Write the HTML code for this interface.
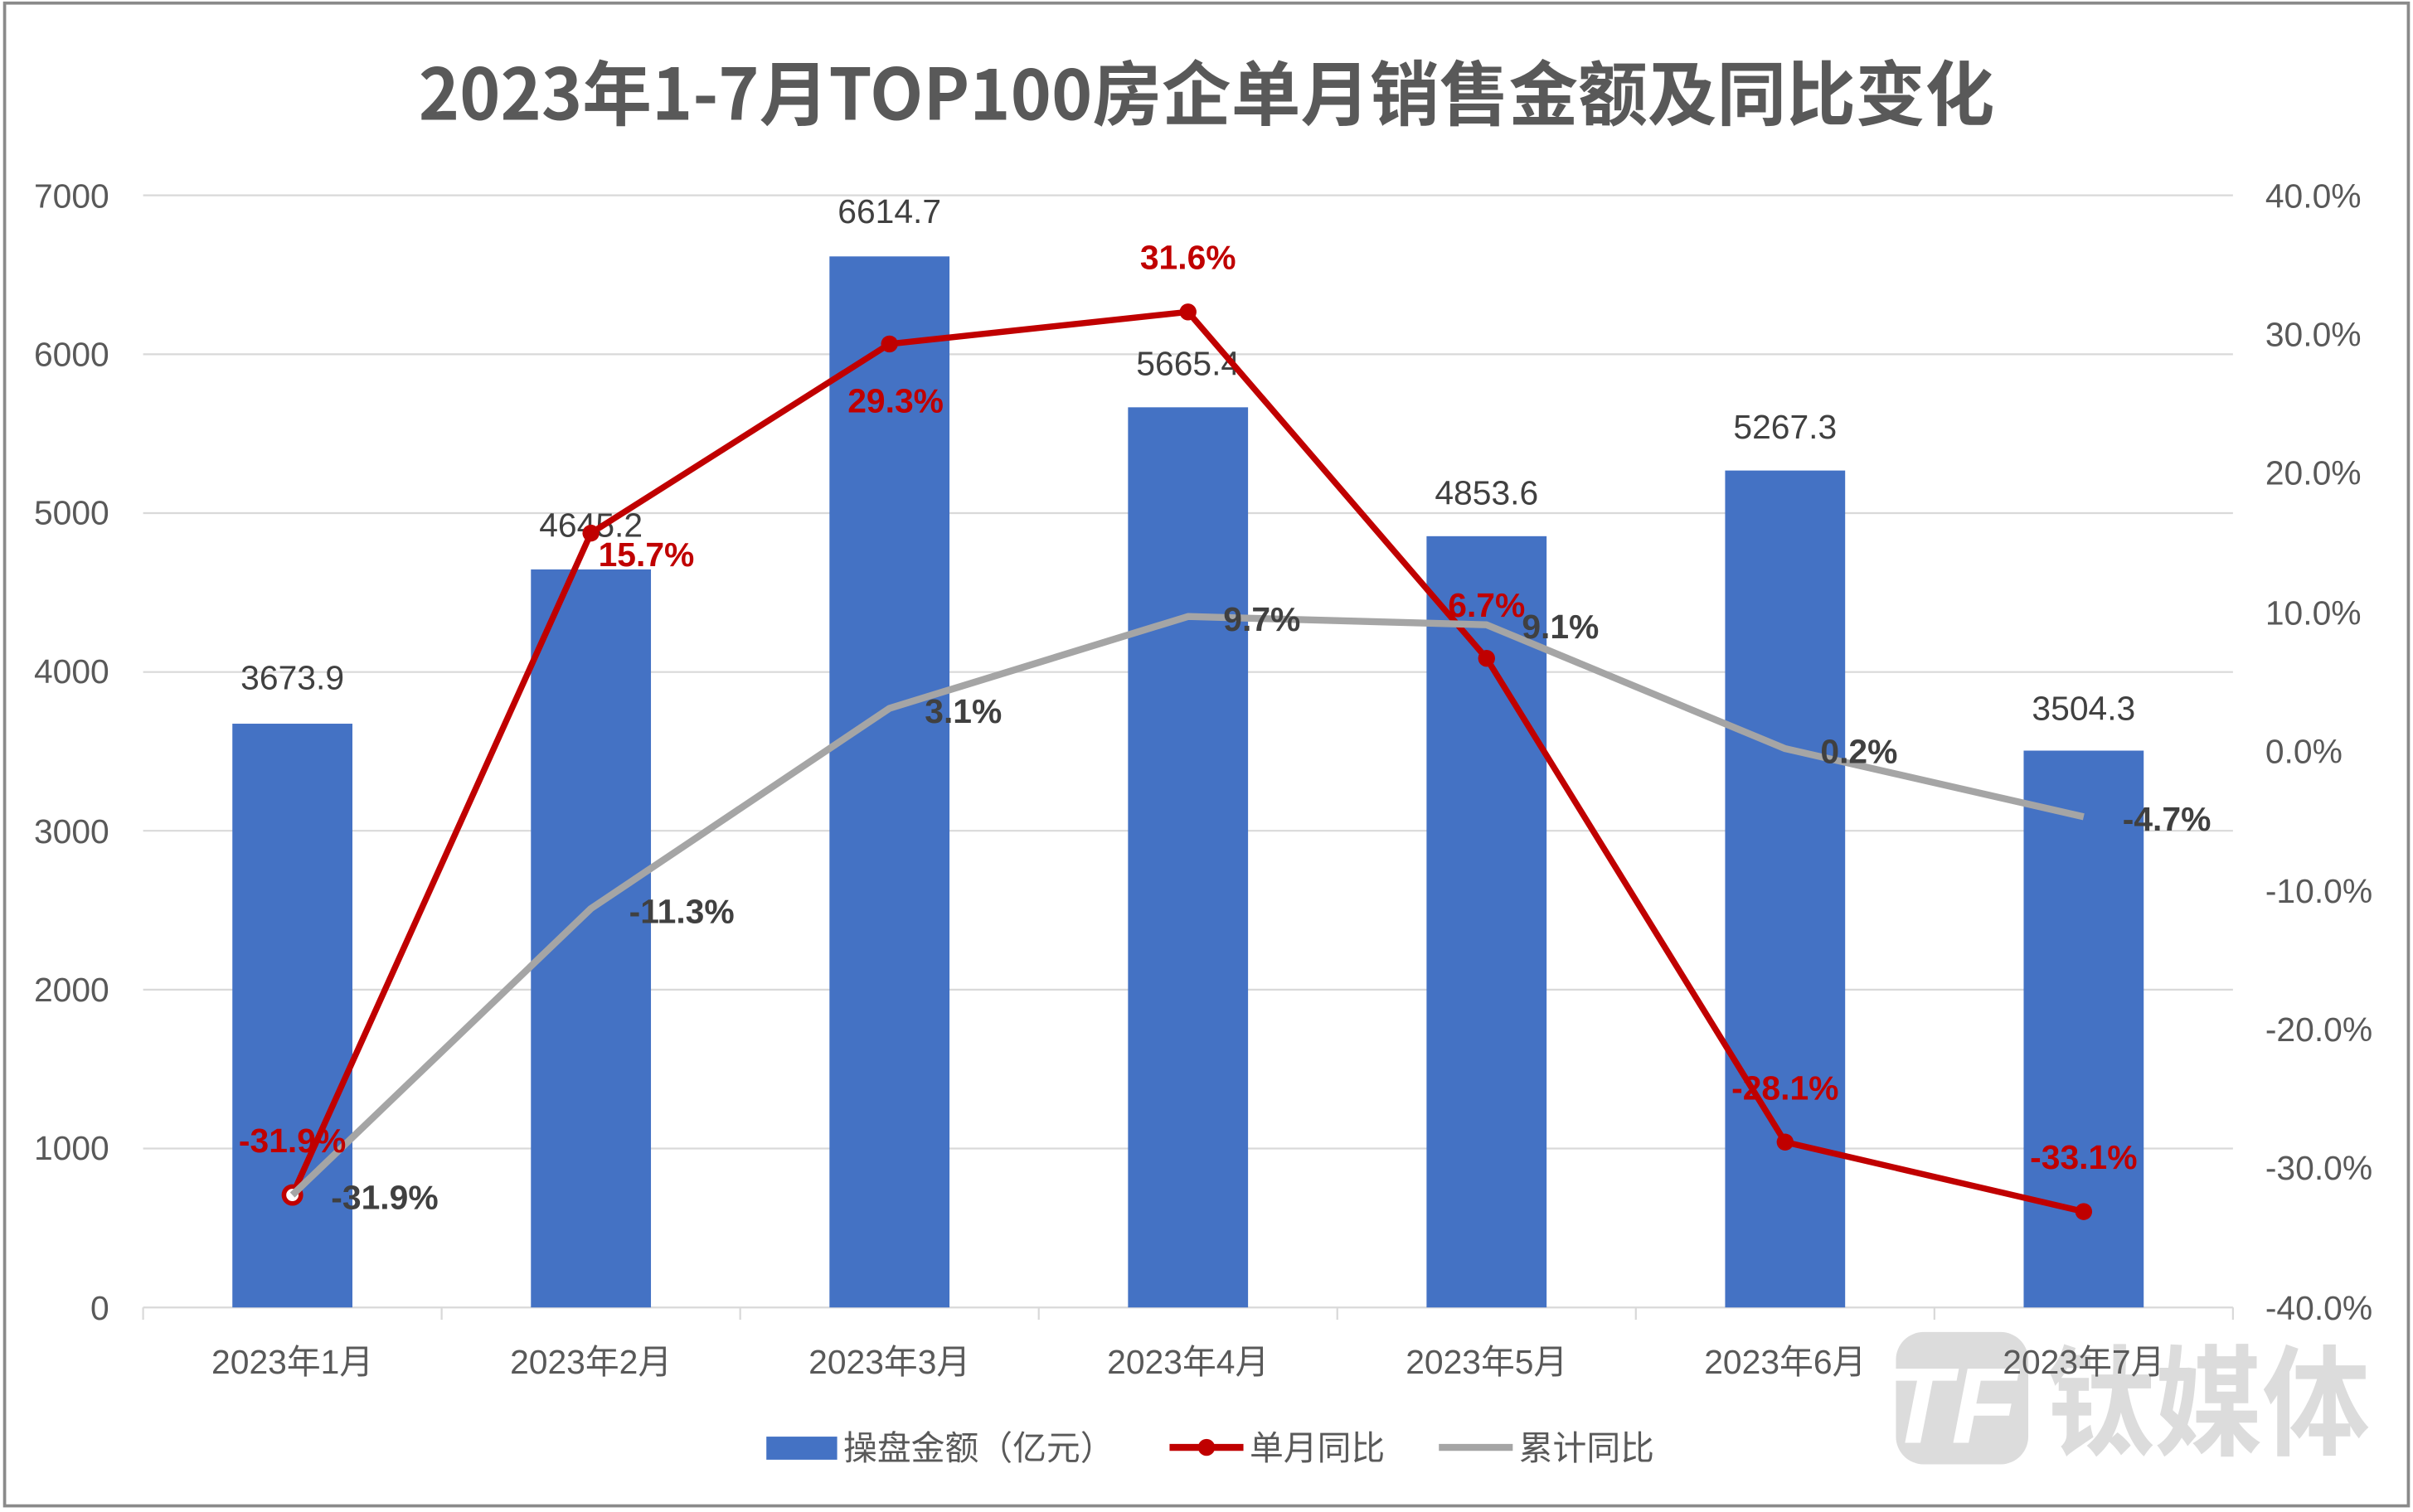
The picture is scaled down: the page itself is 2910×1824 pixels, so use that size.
<!DOCTYPE html>
<html><head><meta charset="utf-8"><style>
html,body{margin:0;padding:0;background:#fff;}
svg{display:block;}
text{font-family:"Liberation Sans","Noto Sans CJK SC",sans-serif;}
</style></head><body>
<svg width="2910" height="1824" viewBox="0 0 1568 983" preserveAspectRatio="none" xmlns="http://www.w3.org/2000/svg">
<rect x="0" y="0" width="1568" height="983" fill="#fff"/>
<rect x="3" y="2" width="1562" height="977" fill="none" stroke="#8a8a8a" stroke-width="2"/>
<text x="784" y="78" text-anchor="middle" font-size="46" font-weight="bold" fill="#595959" textLength="1024" lengthAdjust="spacingAndGlyphs" style='font-family:"Noto Sans CJK SC",sans-serif'>2023年1-7月TOP100房企单月销售金额及同比变化</text>
<!-- watermark -->
<g fill="#dcdcdc">
<rect x="1232" y="866" width="86" height="86" rx="18"/>
<text x="1330" y="940" font-size="78" font-weight="bold" fill="#dcdcdc" style='font-family:"Noto Sans CJK SC",sans-serif' textLength="210" lengthAdjust="spacingAndGlyphs">钛媒体</text>
</g>
<text x="1268" y="938" font-size="70" font-weight="bold" fill="#fff" text-anchor="middle" font-style="italic">TF</text>
<!-- gridlines -->
<g stroke="#d9d9d9" stroke-width="1.2">
<line x1="93" x2="1451" y1="127" y2="127"/>
<line x1="93" x2="1451" y1="230.3" y2="230.3"/>
<line x1="93" x2="1451" y1="333.6" y2="333.6"/>
<line x1="93" x2="1451" y1="436.9" y2="436.9"/>
<line x1="93" x2="1451" y1="540.1" y2="540.1"/>
<line x1="93" x2="1451" y1="643.4" y2="643.4"/>
<line x1="93" x2="1451" y1="746.7" y2="746.7"/>
<line x1="93" x2="1451" y1="850" y2="850"/>
</g>
<g stroke="#d9d9d9" stroke-width="1.2">
<line x1="93" x2="93" y1="850" y2="858"/><line x1="287" x2="287" y1="850" y2="858"/><line x1="481" x2="481" y1="850" y2="858"/><line x1="675" x2="675" y1="850" y2="858"/><line x1="869" x2="869" y1="850" y2="858"/><line x1="1063" x2="1063" y1="850" y2="858"/><line x1="1257" x2="1257" y1="850" y2="858"/><line x1="1451" x2="1451" y1="850" y2="858"/>
</g>
<!-- left axis -->
<g font-size="22" fill="#595959" text-anchor="end">
<text x="71" y="135">7000</text><text x="71" y="238">6000</text><text x="71" y="341">5000</text><text x="71" y="444">4000</text><text x="71" y="548">3000</text><text x="71" y="651">2000</text><text x="71" y="754">1000</text><text x="71" y="858">0</text>
</g>
<g font-size="22" fill="#595959" text-anchor="start">
<text x="1472" y="135">40.0%</text><text x="1472" y="225">30.0%</text><text x="1472" y="315">20.0%</text><text x="1472" y="406">10.0%</text><text x="1472" y="496">0.0%</text><text x="1472" y="587">-10.0%</text><text x="1472" y="677">-20.0%</text><text x="1472" y="767">-30.0%</text><text x="1472" y="858">-40.0%</text>
</g>
<!-- bars -->
<g fill="#4472c4">
<rect x="151" y="470.5" width="78" height="379.5"/>
<rect x="345" y="370.2" width="78" height="479.8"/>
<rect x="539" y="166.7" width="78" height="683.3"/>
<rect x="733" y="264.8" width="78" height="585.2"/>
<rect x="927" y="348.6" width="78" height="501.4"/>
<rect x="1121" y="305.9" width="78" height="544.1"/>
<rect x="1315" y="488" width="78" height="362"/>
</g>
<!-- x labels -->
<g font-size="22" fill="#595959" text-anchor="middle" style='font-family:"Liberation Sans","Noto Sans CJK SC",sans-serif'>
<text x="190" y="893">2023年1月</text><text x="384" y="893">2023年2月</text><text x="578" y="893">2023年3月</text><text x="772" y="893">2023年4月</text><text x="966" y="893">2023年5月</text><text x="1160" y="893">2023年6月</text><text x="1354" y="893">2023年7月</text>
</g>
<!-- bar labels -->
<g font-size="22" fill="#404040" text-anchor="middle">
<text x="190" y="448">3673.9</text><text x="384" y="349">4645.2</text><text x="578" y="145">6614.7</text><text x="772" y="244">5665.4</text><text x="966" y="328">4853.6</text><text x="1160" y="285">5267.3</text><text x="1354" y="468">3504.3</text>
</g>
<!-- red line -->
<polyline fill="none" stroke="#c00000" stroke-width="4" stroke-linejoin="round" points="190,776.9 384,346.6 578,223.6 772,202.8 966,428 1160,742.5 1354,787.7"/>
<g fill="#c00000">
<circle cx="190" cy="776.9" r="5.5" fill="#fff" stroke="#c00000" stroke-width="3"/>
<circle cx="384" cy="346.6" r="5.5"/><circle cx="578" cy="223.6" r="5.5"/><circle cx="772" cy="202.8" r="5.5"/><circle cx="966" cy="428" r="5.5"/><circle cx="1160" cy="742.5" r="5.5"/><circle cx="1354" cy="787.7" r="5.5"/>
</g>
<!-- gray line -->
<polyline fill="none" stroke="#a5a5a5" stroke-width="4.5" stroke-linejoin="round" points="190,776.9 384,590.7 578,460.5 772,400.8 966,406.2 1160,486.7 1354,531"/>
<!-- red labels -->
<g font-size="22" font-weight="bold" fill="#c00000" text-anchor="middle">
<text x="190" y="749">-31.9%</text><text x="420" y="368">15.7%</text><text x="582" y="268">29.3%</text><text x="772" y="175">31.6%</text><text x="966" y="401">6.7%</text><text x="1160" y="715">-28.1%</text><text x="1354" y="760">-33.1%</text>
</g>
<g font-size="22" font-weight="bold" fill="#404040" text-anchor="middle">
<text x="250" y="786">-31.9%</text><text x="443" y="600">-11.3%</text><text x="626" y="470">3.1%</text><text x="820" y="410">9.7%</text><text x="1014" y="415">9.1%</text><text x="1208" y="496">0.2%</text><text x="1408" y="540">-4.7%</text>
</g>
<!-- legend -->
<rect x="498" y="934" width="46" height="15" fill="#4472c4"/>
<text x="548" y="949" font-size="22" fill="#595959" style='font-family:"Noto Sans CJK SC",sans-serif'>操盘金额（亿元）</text>
<line x1="760" x2="808" y1="941" y2="941" stroke="#c00000" stroke-width="4.5"/>
<circle cx="784" cy="941" r="5.5" fill="#c00000"/>
<text x="812" y="949" font-size="22" fill="#595959" style='font-family:"Noto Sans CJK SC",sans-serif'>单月同比</text>
<line x1="935" x2="983" y1="941" y2="941" stroke="#a5a5a5" stroke-width="4.5"/>
<text x="987" y="949" font-size="22" fill="#595959" style='font-family:"Noto Sans CJK SC",sans-serif'>累计同比</text>
</svg>
</body></html>
